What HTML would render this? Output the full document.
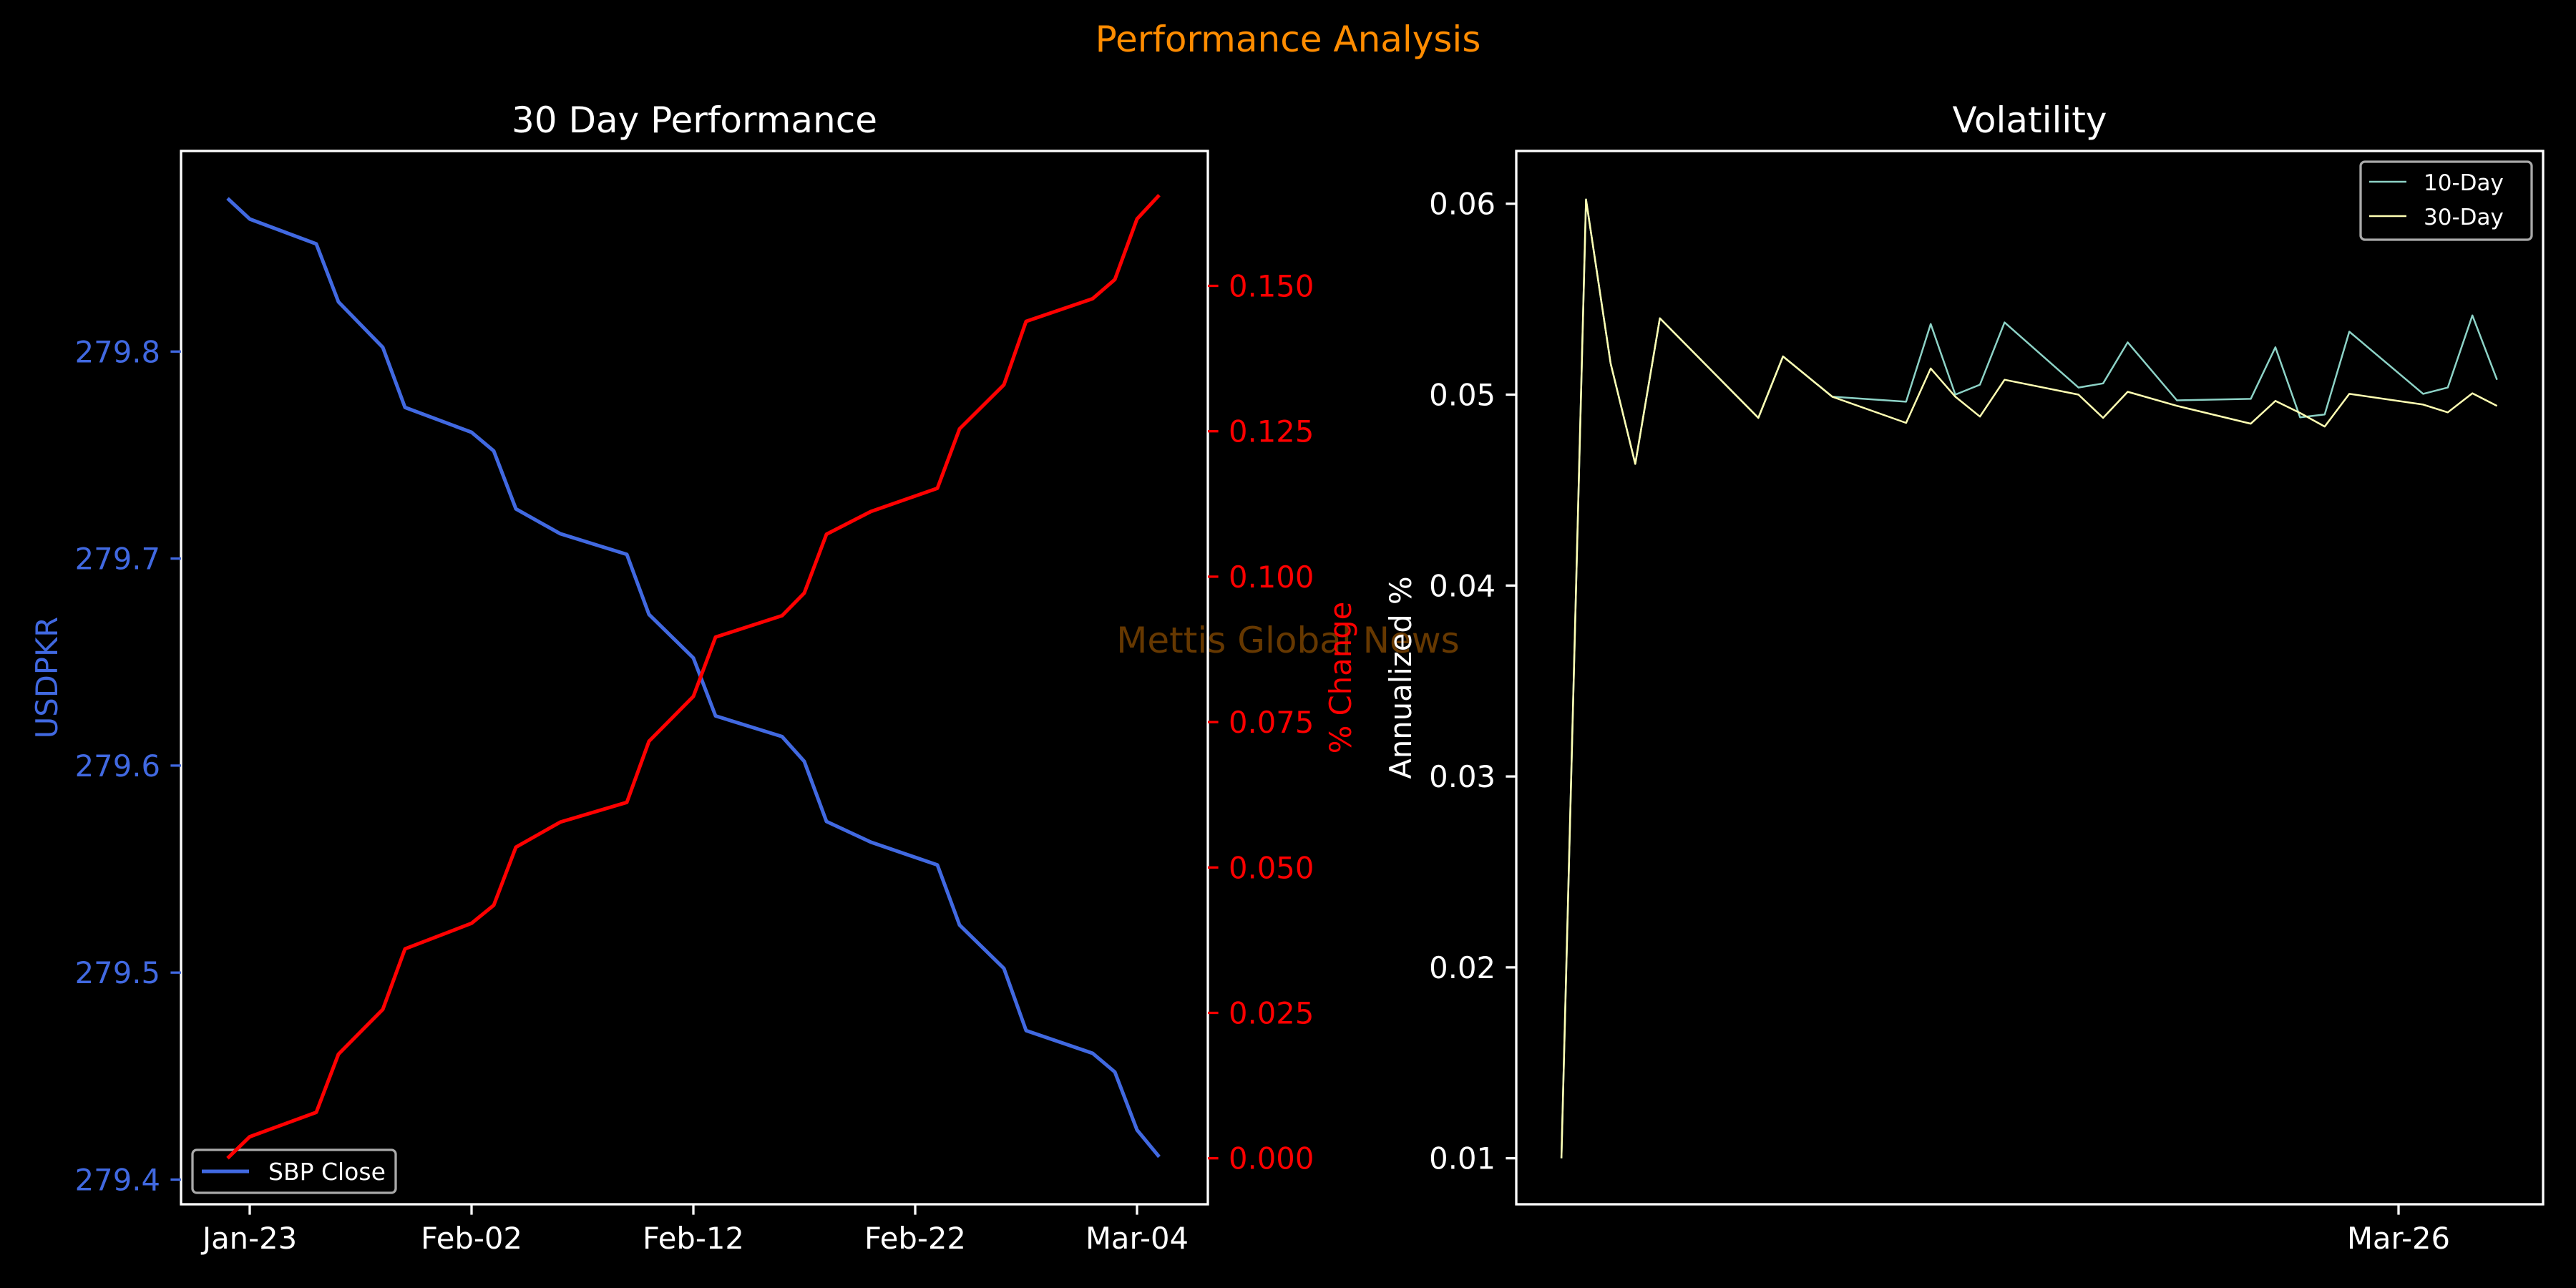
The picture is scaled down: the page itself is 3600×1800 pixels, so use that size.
<!DOCTYPE html>
<html><head><meta charset="utf-8"><style>
html,body{margin:0;padding:0;background:#000;}
svg{display:block;font-family:"DejaVu Sans","Liberation Sans",sans-serif;}
</style></head><body>
<svg id="chart" width="3600" height="1800" viewBox="0 0 3600 1800" xmlns="http://www.w3.org/2000/svg">
<rect x="0" y="0" width="3600" height="1800" fill="#000"/>
<text x="1800" y="72" fill="#ff8c00" font-size="50" text-anchor="middle">Performance Analysis</text>
<g id="left"></g><g id="right"></g>
</svg>
<script>
// ---- Left chart data (day offsets relative to Jan-23) ----
const perfDays = [-1,0,3,4,6,7,10,11,12,14,17,18,20,21,24,25,26,28,31,32,34,35,38,39,40,41];
const perfClose = [279.874,279.864,279.852,279.824,279.802,279.773,279.761,279.752,279.724,279.712,279.702,279.673,279.652,279.624,279.614,279.602,279.573,279.563,279.552,279.523,279.502,279.472,279.461,279.452,279.424,279.411];
const perfPct = [0,0.0037,0.0079,0.0179,0.0256,0.036,0.0404,0.0435,0.0535,0.0578,0.0612,0.0717,0.0794,0.0896,0.0933,0.0972,0.1073,0.1112,0.1152,0.1254,0.133,0.1439,0.1478,0.1511,0.1615,0.1656];
const perfXTicks = [0,10,20,30,40];
const perfXLabels = ["Jan-23","Feb-02","Feb-12","Feb-22","Mar-04"];
const perfYTicks = [279.4,279.5,279.6,279.7,279.8];
const perfPctTicks = [0,0.025,0.05,0.075,0.1,0.125,0.15];
// ---- Right chart data (day offsets relative to Mar-26) ----
const volDays = [-34,-33,-32,-31,-30,-26,-25,-23,-20,-19,-18,-17,-16,-13,-12,-11,-9,-6,-5,-4,-3,-2,1,2,3,4];
const vol10 = [0.01,0.06022,0.05163,0.04637,0.054,0.04878,0.052,0.04989,0.04963,0.0537,0.05,0.05052,0.05378,0.05037,0.05059,0.05274,0.0497,0.04978,0.05248,0.04881,0.04896,0.0533,0.05004,0.05037,0.05415,0.05078];
const vol30 = [0.01,0.06022,0.05163,0.04637,0.054,0.04878,0.052,0.04989,0.04852,0.05137,0.04989,0.04885,0.05078,0.05,0.04878,0.05015,0.04941,0.04848,0.04967,0.04904,0.04833,0.05004,0.04948,0.04907,0.05007,0.04941];
const volXTicks = [0];
const volXLabels = ["Mar-26"];
const volYTicks = [0.01,0.02,0.03,0.04,0.05,0.06];

const NS="http://www.w3.org/2000/svg";
function mk(parent,tag,attrs,text){const e=document.createElementNS(NS,tag);for(const k in attrs)e.setAttribute(k,attrs[k]);if(text!==undefined)e.textContent=text;parent.appendChild(e);return e;}

const L={x0:253,x1:1688,y0:211,y1:1683};
const R={x0:2119,x1:3554,y0:211,y1:1683};
const lx=d=>349+d*31.0;
const ly=v=>1648.5-(v-279.4)*2893;
const lp=v=>1618.7-v*8128;
const rx=d=>3352+d*34.41;
const ry=v=>1618.7-(v-0.01)*26680;

const left=document.getElementById('left');
const right=document.getElementById('right');

function pathD(xs,ys,fx,fy){return xs.map((d,i)=>(i?'L':'M')+fx(d).toFixed(1)+' '+fy(ys[i]).toFixed(1)).join(' ');}

let t=mk(left,'text',{x:(L.x0+L.x1)/2,y:185,fill:'#fff','font-size':50,'text-anchor':'middle'},'30 Day Performance');



// blue line
let p=mk(left,'path',{d:pathD(perfDays,perfClose,lx,ly),fill:'none',stroke:'#4169e1','stroke-width':5,'stroke-linejoin':'round'});



// left legend (below twin axis)
let lg=mk(left,'g',{});


mk(lg,'rect',{x:269,y:1607,width:284,height:60,rx:6,fill:'#000',stroke:'#aaa','stroke-width':3.3});
mk(lg,'line',{x1:282,x2:348,y1:1637,y2:1637,stroke:'#4169e1','stroke-width':5});
t=mk(lg,'text',{x:375,y:1649,fill:'#fff','font-size':33},'SBP Close');



// red line (twin axis, drawn on top)
p=mk(left,'path',{d:pathD(perfDays,perfPct,lx,lp),fill:'none',stroke:'#ff0000','stroke-width':5,'stroke-linejoin':'round'});



t=mk(left,'text',{x:1800,y:912,fill:'#ff8c00','fill-opacity':0.4,'font-size':50,'text-anchor':'middle'},'Mettis Global News');



let fr=mk(left,'rect',{x:L.x0,y:L.y0,width:L.x1-L.x0,height:L.y1-L.y0,fill:'none',stroke:'#fff','stroke-width':3.3});



perfXTicks.forEach((d,i)=>{
  const x=lx(d);
  mk(left,'line',{x1:x,x2:x,y1:L.y1,y2:L.y1+14.6,stroke:'#fff','stroke-width':3.3});
  const e=mk(left,'text',{x:x,y:L.y1+62,fill:'#fff','font-size':41.7,'text-anchor':'middle'},perfXLabels[i]);
  
  
});
perfYTicks.forEach(v=>{
  const y=ly(v);
  mk(left,'line',{x1:L.x0-14.6,x2:L.x0,y1:y,y2:y,stroke:'#4169e1','stroke-width':3.3});
  const e=mk(left,'text',{x:L.x0-29,y:y+15,fill:'#4169e1','font-size':41.7,'text-anchor':'end'},v.toFixed(1));
  
  
});
perfPctTicks.forEach(v=>{
  const y=lp(v);
  mk(left,'line',{x1:L.x1,x2:L.x1+14.6,y1:y,y2:y,stroke:'#ff0000','stroke-width':3.3});
  const e=mk(left,'text',{x:L.x1+29,y:y+15,fill:'#ff0000','font-size':41.7,'text-anchor':'start'},v.toFixed(3));
  
  
});
t=mk(left,'text',{x:0,y:0,fill:'#4169e1','font-size':41.7,'text-anchor':'middle',transform:'translate(80,947) rotate(-90)'},'USDPKR');


t=mk(left,'text',{x:0,y:0,fill:'#ff0000','font-size':41.7,'text-anchor':'middle',transform:'translate(1888,947) rotate(-90)'},'% Change');



// Right chart
t=mk(right,'text',{x:(R.x0+R.x1)/2,y:185,fill:'#fff','font-size':50,'text-anchor':'middle'},'Volatility');


p=mk(right,'path',{d:pathD(volDays,vol10,rx,ry),fill:'none',stroke:'#8dd3c7','stroke-width':2.5,'stroke-linejoin':'round'});


p=mk(right,'path',{d:pathD(volDays,vol30,rx,ry),fill:'none',stroke:'#ffffb3','stroke-width':2.5,'stroke-linejoin':'round'});


fr=mk(right,'rect',{x:R.x0,y:R.y0,width:R.x1-R.x0,height:R.y1-R.y0,fill:'none',stroke:'#fff','stroke-width':3.3});


volXTicks.forEach((d,i)=>{
  const x=rx(d);
  mk(right,'line',{x1:x,x2:x,y1:R.y1,y2:R.y1+14.6,stroke:'#fff','stroke-width':3.3});
  const e=mk(right,'text',{x:x,y:R.y1+62,fill:'#fff','font-size':41.7,'text-anchor':'middle'},volXLabels[i]);
  
  
});
volYTicks.forEach(v=>{
  const y=ry(v);
  mk(right,'line',{x1:R.x0-14.6,x2:R.x0,y1:y,y2:y,stroke:'#fff','stroke-width':3.3});
  const e=mk(right,'text',{x:R.x0-29,y:y+15,fill:'#fff','font-size':41.7,'text-anchor':'end'},v.toFixed(2));
  
  
});
t=mk(right,'text',{x:0,y:0,fill:'#fff','font-size':41.7,'text-anchor':'middle',transform:'translate(1972,947) rotate(-90)'},'Annualized %');


lg=mk(right,'g',{});


mk(lg,'rect',{x:3299,y:226,width:239,height:109,rx:6,fill:'#000',stroke:'#aaa','stroke-width':3.3});
mk(lg,'line',{x1:3311,x2:3363,y1:254,y2:254,stroke:'#8dd3c7','stroke-width':2.5});
t=mk(lg,'text',{x:3387,y:266,fill:'#fff','font-size':31},'10-Day');


mk(lg,'line',{x1:3311,x2:3363,y1:302,y2:302,stroke:'#ffffb3','stroke-width':2.5});
t=mk(lg,'text',{x:3387,y:314,fill:'#fff','font-size':31},'30-Day');


</script>
</body></html>
